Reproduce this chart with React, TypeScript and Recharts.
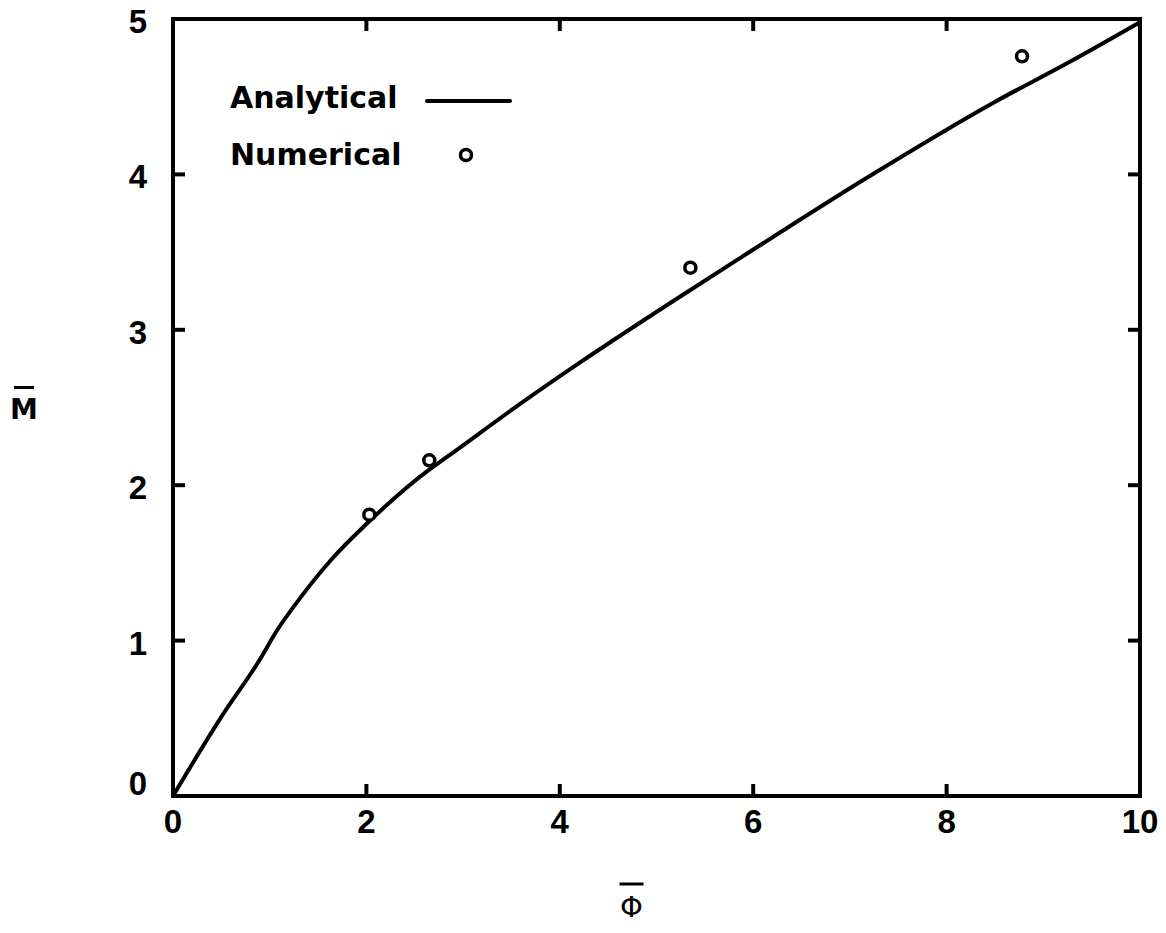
import React from "react";
import {
  ComposedChart,
  Line,
  Scatter,
  XAxis,
  YAxis,
  Legend,
  ReferenceLine,
} from "recharts";

// analytical curve
const phiAnalytical = [0, 0.49, 0.9, 1.07, 1.31, 1.65, 2.0, 2.65, 2.83, 3.56, 4.21, 5.21, 5.86, 7.18, 8.48, 9.26, 10];
const mAnalytical = [0, 0.5, 0.88, 1.06, 1.27, 1.53, 1.75, 2.1, 2.18, 2.51, 2.79, 3.2, 3.46, 3.98, 4.46, 4.72, 4.98];

// numerical results (open circles)
const phiNumerical = [2.03, 2.65, 5.35, 8.78];
const mNumerical = [1.81, 2.16, 3.4, 4.76];

const xTicks = [0, 2, 4, 6, 8, 10];
const yTicks = [0, 1, 2, 3, 4, 5];

const analytical = phiAnalytical.map((x, i) => ({ x, y: mAnalytical[i] }));
const numerical = phiNumerical.map((x, i) => ({ x, y: mNumerical[i] }));

const X_MAX = 10;
const Y_MAX = 5;
// inward tick length, ~12px, in data units of each axis
const X_TICK_LEN = 0.077; // along y for x ticks
const Y_TICK_LEN = 0.124; // along x for y ticks

const FONT = "'DejaVu Sans', sans-serif";
const TICK_FONT = "'Liberation Sans', Arial, sans-serif";

const BottomTick = (props: any) => {
  const { x, y, payload } = props;
  return (
    <text x={x} y={y + 37} textAnchor="middle" fontFamily={TICK_FONT} fontWeight="bold" fontSize={33} fill="#000">
      {payload.value}
    </text>
  );
};

const LeftTick = (props: any) => {
  const { x, y, payload } = props;
  // the 0 label sits higher so it clears the x-axis 0
  const dy = payload.value === 0 ? -1 : 14;
  return (
    <text x={x - 26} y={y + dy} textAnchor="end" fontFamily={TICK_FONT} fontWeight="bold" fontSize={33} fill="#000">
      {payload.value}
    </text>
  );
};

const NoLabel = () => <g />;

const YTitle = (props: any) => {
  const { viewBox } = props;
  const cx = viewBox.x - 89;
  const cy = viewBox.y + viewBox.height / 2 + 11;
  return (
    <g>
      <line x1={cx - 10} y1={cy - 31} x2={cx + 10} y2={cy - 31} stroke="#000" strokeWidth={3} />
      <text x={cx} y={cy} textAnchor="middle" fontFamily={FONT} fontWeight="bold" fontSize={28} fill="#000">
        M
      </text>
    </g>
  );
};

const XTitle = (props: any) => {
  const { viewBox } = props;
  const cx = viewBox.x + viewBox.width / 2 - 25;
  const cy = viewBox.y + 121;
  return (
    <g>
      <line x1={cx - 12} y1={cy - 33} x2={cx + 12} y2={cy - 33} stroke="#000" strokeWidth={3} />
      <text x={cx} y={cy} textAnchor="middle" fontFamily={FONT} fontSize={29} fill="#000">
        Φ
      </text>
    </g>
  );
};

const LegendBox = () => (
  <svg width={300} height={110} style={{ display: "block" }}>
    <text x={0} y={40} fontFamily={FONT} fontWeight="bold" fontSize={30} fill="#000">
      Analytical
    </text>
    <line x1={197} y1={33} x2={280} y2={33} stroke="#000" strokeWidth={4} strokeLinecap="round" />
    <text x={0} y={97} fontFamily={FONT} fontWeight="bold" fontSize={30} fill="#000">
      Numerical
    </text>
    <circle cx={236} cy={87} r={5.5} fill="#fff" stroke="#000" strokeWidth={3.5} />
  </svg>
);

const OpenCircle = (props: any) => (
  <circle cx={props.cx} cy={props.cy} r={5.5} fill="#fff" stroke="#000" strokeWidth={3.5} />
);

const axisLine = { stroke: "#000", strokeWidth: 4, strokeLinecap: "square" as const };

export default function App() {
  return (
    <div style={{ width: 1166, height: 933, margin: -8 }}>
      <ComposedChart
        width={1166}
        height={933}
        margin={{ top: 18, right: 25, left: 113, bottom: 77 }}
      >
        <XAxis
          xAxisId="b"
          dataKey="x"
          type="number"
          domain={[0, X_MAX]}
          ticks={xTicks}
          orientation="bottom"
          height={60}
          tickSize={0}
          tickMargin={0}
          tickLine={false}
          axisLine={axisLine}
          tick={<BottomTick />}
          interval={0}
          label={<XTitle />}
        />
        <XAxis
          xAxisId="t"
          dataKey="x"
          type="number"
          domain={[0, X_MAX]}
          ticks={xTicks}
          orientation="top"
          height={1}
          tickLine={false}
          axisLine={axisLine}
          tick={<NoLabel />}
          interval={0}
        />
        <YAxis
          yAxisId="l"
          dataKey="y"
          type="number"
          domain={[0, Y_MAX]}
          ticks={yTicks}
          orientation="left"
          width={60}
          tickSize={0}
          tickMargin={0}
          tickLine={false}
          axisLine={axisLine}
          tick={<LeftTick />}
          interval={0}
          label={<YTitle />}
        />
        <YAxis
          yAxisId="r"
          dataKey="y"
          type="number"
          domain={[0, Y_MAX]}
          ticks={yTicks}
          orientation="right"
          width={1}
          tickLine={false}
          axisLine={axisLine}
          tick={<NoLabel />}
          interval={0}
        />
        <Legend
          layout="vertical"
          align="center"
          verticalAlign="middle"
          wrapperStyle={{ left: 230, top: 68, width: 300, height: 110 }}
          content={<LegendBox />}
        />
        {/* inward tick marks on all four sides of the frame */}
        {xTicks.map((t) => (
          <ReferenceLine
            key={`xb-${t}`}
            xAxisId="b"
            yAxisId="l"
            segment={[{ x: t, y: 0 }, { x: t, y: X_TICK_LEN }]}
            stroke="#000"
            strokeWidth={4}
            ifOverflow="visible"
          />
        ))}
        {xTicks.map((t) => (
          <ReferenceLine
            key={`xt-${t}`}
            xAxisId="b"
            yAxisId="l"
            segment={[{ x: t, y: Y_MAX }, { x: t, y: Y_MAX - X_TICK_LEN }]}
            stroke="#000"
            strokeWidth={4}
            ifOverflow="visible"
          />
        ))}
        {yTicks.map((t) => (
          <ReferenceLine
            key={`yl-${t}`}
            xAxisId="b"
            yAxisId="l"
            segment={[{ x: 0, y: t }, { x: Y_TICK_LEN, y: t }]}
            stroke="#000"
            strokeWidth={4}
            ifOverflow="visible"
          />
        ))}
        {yTicks.map((t) => (
          <ReferenceLine
            key={`yr-${t}`}
            xAxisId="b"
            yAxisId="l"
            segment={[{ x: X_MAX, y: t }, { x: X_MAX - Y_TICK_LEN, y: t }]}
            stroke="#000"
            strokeWidth={4}
            ifOverflow="visible"
          />
        ))}
        {/* invisible copy so the mirror axes have a series attached */}
        <Line
          xAxisId="t"
          yAxisId="r"
          data={analytical}
          dataKey="y"
          stroke="none"
          dot={false}
          activeDot={false}
          legendType="none"
          isAnimationActive={false}
        />
        <Line
          xAxisId="b"
          yAxisId="l"
          data={analytical}
          dataKey="y"
          type="monotone"
          stroke="#000"
          strokeWidth={4}
          dot={false}
          activeDot={false}
          isAnimationActive={false}
          name="Analytical"
        />
        <Scatter
          xAxisId="b"
          yAxisId="l"
          data={numerical}
          dataKey="y"
          shape={<OpenCircle />}
          isAnimationActive={false}
          name="Numerical"
        />
      </ComposedChart>
    </div>
  );
}
